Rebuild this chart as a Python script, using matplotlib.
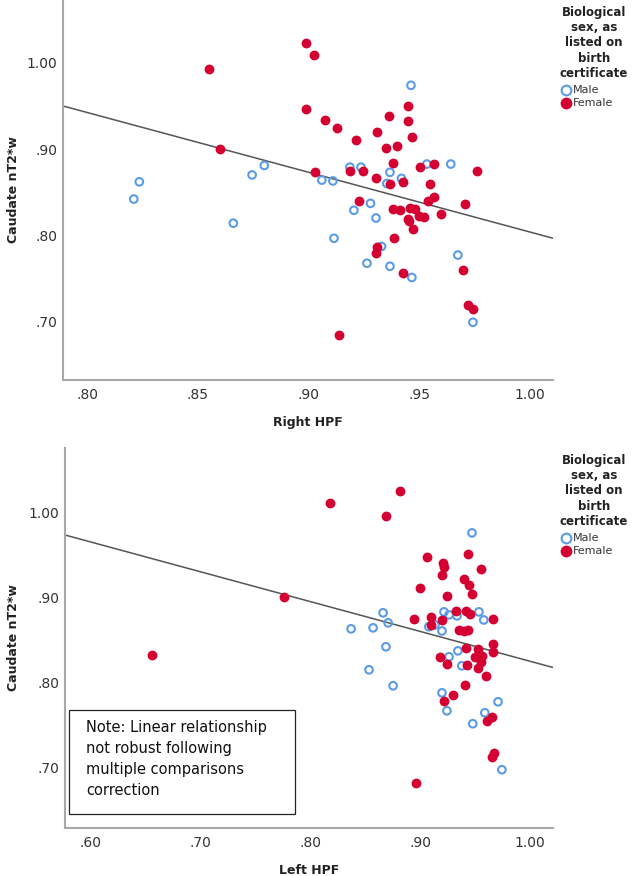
import matplotlib
matplotlib.use("Agg")
import matplotlib.pyplot as plt
from matplotlib.patches import Rectangle
from matplotlib.ticker import FuncFormatter
import numpy as np

# Right HPF vs caudate nT2*w
right_male_x = [0.8235, 0.821, 0.866, 0.8745, 0.880, 0.906, 0.911, 0.9115, 0.9463, 0.9187,
                0.9237, 0.9368, 0.942, 0.9354, 0.9535, 0.9643, 0.928, 0.9205, 0.9305, 0.933,
                0.9264, 0.9368, 0.9467, 0.9675, 0.9743]
right_male_y = [0.862, 0.842, 0.814, 0.870, 0.881, 0.864, 0.863, 0.7965, 0.974, 0.879,
                0.879, 0.873, 0.866, 0.860, 0.8826, 0.8826, 0.837, 0.829, 0.820, 0.787,
                0.7675, 0.764, 0.751, 0.777, 0.699]
right_female_x = [0.855, 0.899, 0.9025, 0.899, 0.9075, 0.913, 0.860, 0.903, 0.9214, 0.931,
                  0.9363, 0.945, 0.945, 0.9467, 0.935, 0.940, 0.938, 0.9503, 0.9567, 0.976,
                  0.9187, 0.9246, 0.9305, 0.9368, 0.9427, 0.9549, 0.9567, 0.954, 0.9707, 0.923,
                  0.938, 0.9413, 0.946, 0.948, 0.9598, 0.945, 0.950, 0.952, 0.9454, 0.947,
                  0.9386, 0.931, 0.9305, 0.9427, 0.970, 0.972, 0.9743, 0.9138]
right_female_y = [0.993, 1.023, 1.009, 0.9465, 0.934, 0.924, 0.900, 0.873, 0.9105, 0.920,
                  0.938, 0.950, 0.9326, 0.914, 0.901, 0.9035, 0.8837, 0.879, 0.8826, 0.874,
                  0.874, 0.874, 0.866, 0.860, 0.8616, 0.860, 0.844, 0.8395, 0.836, 0.8395,
                  0.830, 0.829, 0.8314, 0.830, 0.8244, 0.8186, 0.822, 0.821, 0.8163, 0.807,
                  0.7965, 0.786, 0.779, 0.756, 0.760, 0.7186, 0.714, 0.6837]
right_fit = (1.4968, -0.693)  # intercept, slope

# Left HPF vs caudate nT2*w
left_male_x = [0.8373, 0.9473, 0.8664, 0.871, 0.8573, 0.9218, 0.9264, 0.9336, 0.9536, 0.958,
               0.9136, 0.920, 0.869, 0.8536, 0.8755, 0.9345, 0.9264, 0.938, 0.920, 0.9245,
               0.971, 0.959, 0.948, 0.9745, 0.908]
left_male_y = [0.8635, 0.9765, 0.8824, 0.8706, 0.8647, 0.8835, 0.880, 0.8788, 0.8835, 0.874,
               0.8682, 0.861, 0.8424, 0.8153, 0.7965, 0.8376, 0.8306, 0.820, 0.7882, 0.767,
               0.7776, 0.7647, 0.7518, 0.6976, 0.866]
left_female_x = [0.8182, 0.7764, 0.6564, 0.8818, 0.869, 0.9064, 0.9436, 0.921, 0.9218, 0.920,
                 0.9555, 0.940, 0.9445, 0.947, 0.900, 0.9245, 0.8945, 0.910, 0.910, 0.9327,
                 0.9418, 0.9455, 0.9664, 0.920, 0.9355, 0.940, 0.9436, 0.9418, 0.9527, 0.9664,
                 0.9664, 0.918, 0.9245, 0.9427, 0.950, 0.9564, 0.9555, 0.9527, 0.960, 0.941,
                 0.930, 0.9218, 0.9655, 0.961, 0.967, 0.9655, 0.8964]
left_female_y = [1.0118, 0.901, 0.833, 1.0259, 0.9965, 0.948, 0.9518, 0.941, 0.9365, 0.927,
                 0.934, 0.922, 0.915, 0.905, 0.912, 0.9025, 0.8753, 0.8776, 0.868, 0.8847,
                 0.8847, 0.881, 0.8753, 0.874, 0.8624, 0.861, 0.8624, 0.8412, 0.840, 0.8459,
                 0.8365, 0.8306, 0.8224, 0.8212, 0.8306, 0.8318, 0.8247, 0.8176, 0.8082, 0.7976,
                 0.7859, 0.7788, 0.760, 0.7553, 0.7176, 0.713, 0.6824]
left_fit = (1.1768, -0.3514)

legend_title = "Biological\nsex, as\nlisted on\nbirth\ncertificate"
legend_labels = ["Male", "Female"]
note = "Note: Linear relationship\nnot robust following\nmultiple comparisons\ncorrection"

MALE = "#5b9be6"
FEMALE = "#d40032"
SPINE = "#a8a8a8"
W, H = 633, 876

fig = plt.figure(figsize=(6.33, 8.76), dpi=100)
ax1 = fig.add_axes([0.0995, 0.5662, 0.7741, 0.4338])
ax2 = fig.add_axes([0.1027, 0.0548, 0.7709, 0.4338])


def strip_zero(v, pos):
    s = f"{v:.2f}"
    return s[1:] if s.startswith("0") else s


def legend(ax):
    # hand-built legend, to the right of the axes (offsets in pixels from axes top)
    top = 1 - ax.get_position().y1
    y0 = top * H
    fig.text(594 / W, 1 - (y0 + 6) / H, legend_title, ha="center", va="top",
             fontsize=8.5, fontweight="bold", color="#222222", linespacing=1.22)
    for i, (lab, dy) in enumerate(zip(legend_labels, (90, 103))):
        yy = 1 - (y0 + dy) / H
        if i == 0:
            fig.lines.append(plt.Line2D([566 / W], [yy], marker="o", markersize=7,
                                        markerfacecolor="none", markeredgecolor=MALE,
                                        markeredgewidth=1.5, transform=fig.transFigure))
        else:
            fig.lines.append(plt.Line2D([566 / W], [yy], marker="o", markersize=8.5,
                                        markerfacecolor=FEMALE, markeredgewidth=0,
                                        transform=fig.transFigure))
        fig.text(573 / W, yy, lab, ha="left", va="center", fontsize=8, color="#333333")


def draw(ax, mx, my, fx, fy, fit, xlim, ylim, xticks, xlabel):
    ax.set_xlim(*xlim)
    ax.set_ylim(*ylim)
    ax.scatter(mx, my, s=30, facecolors="none", edgecolors=MALE, linewidths=1.5, zorder=3)
    ax.scatter(fx, fy, s=50, color=FEMALE, linewidths=0, zorder=3)
    xs = np.array(xlim)
    ax.plot(xs, fit[0] + fit[1] * xs, color="#555555", linewidth=1.1, zorder=2)
    ax.set_xticks(xticks)
    ax.set_yticks([0.70, 0.80, 0.90, 1.00])
    ax.xaxis.set_major_formatter(FuncFormatter(strip_zero))
    ax.yaxis.set_major_formatter(FuncFormatter(strip_zero))
    ax.tick_params(length=0, labelsize=10, labelcolor="#333333")
    ax.tick_params(axis="x", pad=6)
    ax.tick_params(axis="y", pad=4)
    for s in ("top", "right"):
        ax.spines[s].set_visible(False)
    for s in ("left", "bottom"):
        ax.spines[s].set_color(SPINE)
        ax.spines[s].set_linewidth(1.5)
    ax.set_xlabel(xlabel, fontsize=9, fontweight="bold", color="#222222")
    ax.set_ylabel("Caudate nT2*w", fontsize=9, fontweight="bold", color="#222222")
    ax.xaxis.set_label_coords(0.5, -0.094)
    left_px = ax.get_position().x0 * W
    ax.yaxis.set_label_coords(-(left_px - 20) / (ax.get_position().width * W), 0.5)
    legend(ax)


draw(ax1, right_male_x, right_male_y, right_female_x, right_female_y, right_fit,
     (0.789, 1.0105), (0.632, 1.073), [0.80, 0.85, 0.90, 0.95, 1.00], "Right HPF")
draw(ax2, left_male_x, left_male_y, left_female_x, left_female_y, left_fit,
     (0.577, 1.021), (0.629, 1.0765), [0.60, 0.70, 0.80, 0.90, 1.00], "Left HPF")

ax2.add_patch(Rectangle((0.0082, 0.0368), 0.463, 0.2737, transform=ax2.transAxes,
                        facecolor="white", edgecolor="#222222", linewidth=0.9, zorder=4))
ax2.text(0.043, 0.283, note, transform=ax2.transAxes, fontsize=10.5, color="#111111",
         va="top", ha="left", linespacing=1.5, zorder=5)

fig.savefig("out.png", dpi=100)
